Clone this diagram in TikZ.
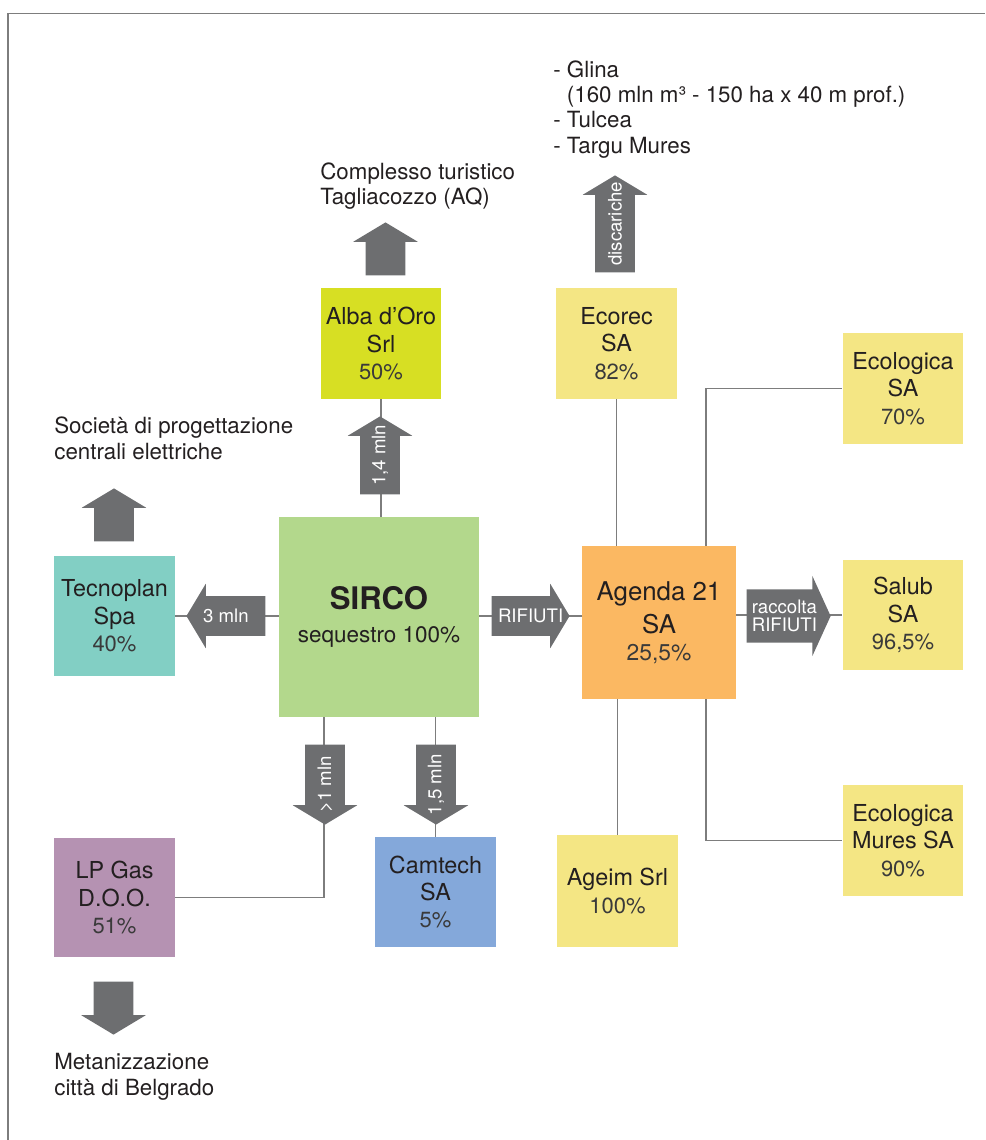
\documentclass[tikz,border=0pt]{standalone}
\usepackage{fontspec}
\setmainfont{TeX Gyre Heros}
\usetikzlibrary{shapes.arrows, positioning, calc}

\definecolor{txtcol}{HTML}{231F20}
\definecolor{pctcol}{HTML}{3A3A3A}
\definecolor{arrowgray}{HTML}{6D6E70}
\definecolor{linegray}{HTML}{7D7D7D}
\definecolor{albacol}{HTML}{D7DF23}
\definecolor{sircocol}{HTML}{B3D88C}
\definecolor{tecnocol}{HTML}{82CFC4}
\definecolor{agendacol}{HTML}{FBB862}
\definecolor{yellowcol}{HTML}{F4E684}
\definecolor{camtechcol}{HTML}{84A8DA}
\definecolor{lpgascol}{HTML}{B592B2}

\newcommand{\pct}[1]{{\fontsize{12.5}{15.6}\selectfont\color{pctcol}#1}}

\begin{document}
\begin{tikzpicture}[x=0.02cm, y=-0.02cm,
    firm/.style={rectangle, inner sep=0pt, align=center, text=txtcol, minimum width=2.41cm, minimum height=2.22cm, font=\fontsize{13.3}{15.6}\selectfont},
    note/.style={anchor=north west, inner sep=0pt, align=left, text=txtcol, font=\fontsize{12.7}{14.5}\selectfont},
    link/.style={draw=linegray, line width=1pt},
    frame/.style={draw=linegray, line width=1pt},
    flow/.style={single arrow, fill=arrowgray, draw=none, inner xsep=0pt, inner ysep=11.05pt, single arrow head extend=7.1pt, single arrow tip angle=118, anchor=tip},
    bigflow/.style={flow, inner ysep=15pt, single arrow head extend=7.65pt, single arrow tip angle=131},
    flowtext/.style={text=white, inner sep=0pt, align=center, font=\fontsize{10.6}{10.6}\selectfont}
  ]
  \useasboundingbox (0,0) rectangle (985,1140);
  \draw[frame] (8,1140) -- (8,13.5) -- (985,13.5);

  % Societa
  \node[firm, fill=albacol] (alba) at (381,343.5) {Alba d’Oro\\Srl\\\pct{50\%}};
  \node[firm, fill=yellowcol] (ecorec) at (616.5,343.5) {Ecorec\\SA\\\pct{82\%}};
  \node[firm, fill=yellowcol] (ecologica) at (903,388.5) {Ecologica\\SA\\\pct{70\%}};
  \node[firm, fill=tecnocol, minimum height=2.4cm] (tecnoplan) at (114.5,616) {Tecnoplan\\Spa\\\pct{40\%}};
  \node[firm, fill=sircocol, minimum width=4cm, minimum height=4cm, font=\fontsize{12.8}{19}\selectfont] (sirco) at (379,617) {{\fontsize{17.7}{19}\selectfont\bfseries SIRCO}\\sequestro 100\%};
  \node[firm, fill=agendacol, minimum width=3.08cm, minimum height=3.06cm, font=\fontsize{14.7}{19}\selectfont] (agenda) at (659,622.5) {Agenda 21\\SA\\[-4pt]{\fontsize{13}{15}\selectfont\color{pctcol}25,5\%}};
  \node[firm, fill=yellowcol] (salub) at (903,615) {Salub\\SA\\\pct{96,5\%}};
  \node[firm, fill=yellowcol] (mures) at (903,840.5) {Ecologica\\Mures SA\\\pct{90\%}};
  \node[firm, fill=lpgascol, minimum height=2.38cm] (lpgas) at (114.5,897.5) {LP Gas\\D.O.O.\\\pct{51\%}};
  \node[firm, fill=camtechcol, minimum height=2.2cm] (camtech) at (435.5,892) {Camtech\\SA\\\pct{5\%}};
  \node[firm, fill=yellowcol, minimum height=2.24cm] (ageim) at (617.5,891) {Ageim Srl\\\pct{100\%}};

  % Note
  \node[note] (discariche) at (553,60) {- Glina\\\hphantom{-\ }(160 mln m³ - 150 ha x 40 m prof.)\\- Tulcea\\- Targu Mures};
  \node[note] (tagliacozzo) at (320,162) {Complesso turistico\\Tagliacozzo (AQ)};
  \node[note] (progettazione) at (54,416.5) {Società di progettazione\\centrali elettriche};
  \node[note] (belgrado) at (54,1053) {Metanizzazione\\città di Belgrado};

  % Collegamenti
  \draw[link] (alba.south) -- (alba.south |- sirco.north);
  \draw[link] (tecnoplan.east) -- (tecnoplan.east -| sirco.west);
  \draw[link] (sirco.east |- tecnoplan.east) -- (tecnoplan.east -| agenda.west);
  \draw[link] (salub.west -| agenda.east) -- (salub.west);
  \draw[link] (ecorec.south) -- (ecorec.south |- agenda.north);
  \draw[link] (ageim.north |- agenda.south) -- (ageim.north);
  \draw[link] ([xshift=-0.6cm]agenda.north east) |- (ecologica.west);
  \draw[link] ([xshift=-0.6cm]agenda.south east) |- (mures.west);
  \draw[link] (camtech.north |- sirco.south) -- (camtech.north);
  \draw[link] ([xshift=0.9cm]sirco.south west) |- (lpgas.east);

  % Frecce
  \node[flow, rotate=90, minimum height=1.06cm] (upalba) at (385.5,222) {};
  \node[flow, rotate=90, minimum height=1.06cm] (uptecno) at (114,488) {};
  \node[flow, rotate=-90, minimum height=1.06cm] (downlpgas) at (113.5,1035) {};
  \node[flow, rotate=90, minimum height=1.94cm] (updisc) at (615,175) {};
  \node[flowtext, rotate=90] at ($(updisc.tip)!.5!(updisc.tail)$) {discariche};
  \node[flow, rotate=90, minimum height=1.56cm] (flowalba) at (380,416) {};
  \node[flowtext, rotate=90] at ($(flowalba.tip)!.5!(flowalba.tail)$) {1,4 mln};
  \node[flow, rotate=180, minimum height=1.58cm] (flowtecno) at (186,616) {};
  \node[flowtext] at ($(flowtecno.tip)!.5!(flowtecno.tail)$) {3 mln};
  \node[flow, minimum height=1.56cm] (flowagenda) at (570,616) {};
  \node[flowtext] at ($(flowagenda.tip)!.5!(flowagenda.tail)$) {RIFIUTI};
  \node[bigflow, minimum height=1.68cm] (flowsalub) at (831,616) {};
  \node[flowtext] at ($(flowsalub.tip)!.55!(flowsalub.tail)$) {raccolta\\RIFIUTI};
  \node[flow, rotate=-90, minimum height=1.6cm] (flowlpgas) at (325,825) {};
  \node[flowtext, rotate=90] at ($(flowlpgas.tip)!.5!(flowlpgas.tail)$) {>1 mln};
  \node[flow, rotate=-90, minimum height=1.6cm] (flowcamtech) at (436,825) {};
  \node[flowtext, rotate=90] at ($(flowcamtech.tip)!.5!(flowcamtech.tail)$) {1,5 mln};
\end{tikzpicture}
\end{document}
